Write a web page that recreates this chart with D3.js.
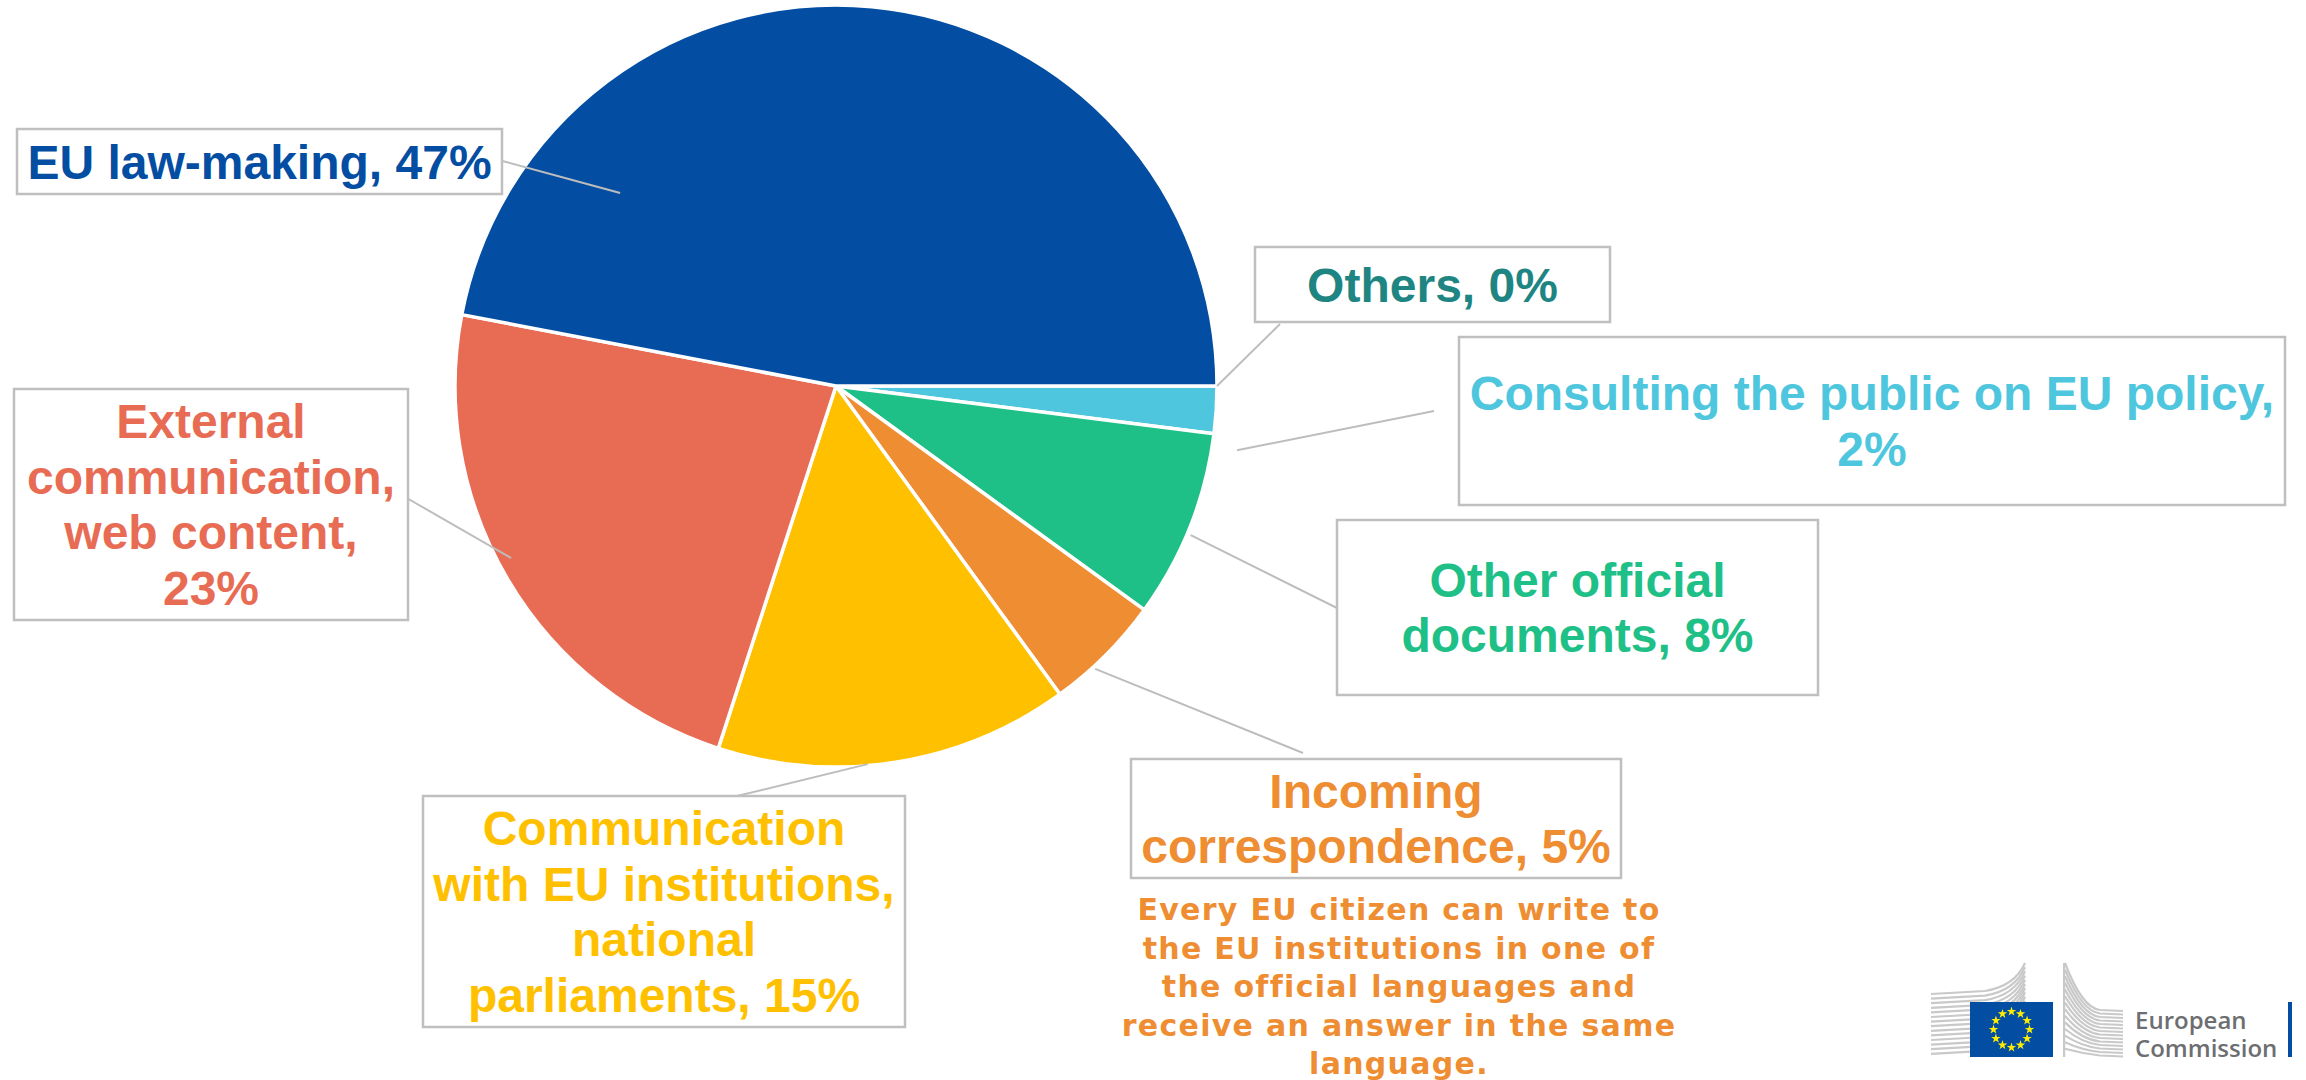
<!DOCTYPE html>
<html>
<head>
<meta charset="utf-8">
<title>Translation workload by document type</title>
<script src="https://cdn.jsdelivr.net/npm/d3@7"></script>
<style>
  html, body { margin: 0; padding: 0; background: #ffffff; }
  svg { display: block; }
</style>
</head>
<body>
<svg id="chart" width="2306" height="1080"></svg>
<script>
// ---- data (clockwise from 3 o'clock) ----
const categories = [
  "Others",
  "Consulting the public on EU policy",
  "Other official documents",
  "Incoming correspondence",
  "Communication with EU institutions, national parliaments",
  "External communication, web content",
  "EU law-making"
];
const shares = [0, 2, 8, 5, 15, 23, 47];
const sliceColors = ["#1E8583", "#4EC6DE", "#1FC087", "#EE8D31", "#FFC000", "#E86C54", "#034EA2"];

// label text split into lines; {v} is replaced by the share
const labelLines = [
  ["Others, {v}"],
  ["Consulting the public on EU policy,", "{v}"],
  ["Other official", "documents, {v}"],
  ["Incoming", "correspondence, {v}"],
  ["Communication", "with EU institutions,", "national", "parliaments, {v}"],
  ["External", "communication,", "web content,", "{v}"],
  ["EU law-making, {v}"]
];

const noteLines = [
  "Every EU citizen can write to",
  "the EU institutions in one of",
  "the official languages and",
  "receive an answer in the same",
  "language."
];

// ---- layout ----
const W = 2306, H = 1080;
const cx = 836, cy = 386, R = 381;

// callout boxes [x0, y0, x1, y1], leader end on the box, leader anchor on the pie (deg clockwise from 12, radius fraction)
const boxes = [
  [1255, 247, 1610, 322],
  [1459, 337, 2285, 505],
  [1337, 520, 1818, 695],
  [1131, 759, 1621, 878],
  [423, 796, 905, 1027],
  [14, 389, 408, 620],
  [17, 129, 502, 194]
];
const leaderBoxEnd = [
  [1280, 324], [1434, 411], [1341, 610], [1303, 753], [733, 797], [405, 497], [495, 159]
];
const leaderPieEnd = [
  [90, 1.0], [99.1, 1.066], [112.8, 1.01], [137.5, 1.007], [175.2, 0.996], [242.1, 0.965], [311.8, 0.76]
];

const svg = d3.select("#chart");
const labelFont = "'Liberation Sans', Arial, Helvetica, sans-serif";

// ---- pie ----
const pie = d3.pie()
  .sort(null)
  .value(d => d)
  .startAngle(Math.PI / 2)
  .endAngle(Math.PI / 2 + 2 * Math.PI);
const arc = d3.arc().innerRadius(0).outerRadius(R);

const pieG = svg.append("g").attr("transform", `translate(${cx},${cy})`);
pieG.selectAll("path.slice")
  .data(pie(shares))
  .join("path")
  .attr("class", "slice")
  .attr("d", arc)
  .attr("fill", (d, i) => sliceColors[i])
  .attr("stroke", "#ffffff")
  .attr("stroke-width", 3.5)
  .attr("stroke-linejoin", "round");

// ---- leader lines ----
svg.append("g").selectAll("line")
  .data(categories)
  .join("line")
  .attr("x1", (d, i) => leaderBoxEnd[i][0])
  .attr("y1", (d, i) => leaderBoxEnd[i][1])
  .attr("x2", (d, i) => cx + d3.pointRadial(leaderPieEnd[i][0] * Math.PI / 180, leaderPieEnd[i][1] * R)[0])
  .attr("y2", (d, i) => cy + d3.pointRadial(leaderPieEnd[i][0] * Math.PI / 180, leaderPieEnd[i][1] * R)[1])
  .attr("stroke", "#BDBDBD")
  .attr("stroke-width", 2);

// ---- callout boxes with labels ----
const lineStep = 55.5;
const callouts = svg.append("g").selectAll("g.callout")
  .data(categories)
  .join("g")
  .attr("class", "callout");

callouts.append("rect")
  .attr("x", (d, i) => boxes[i][0])
  .attr("y", (d, i) => boxes[i][1])
  .attr("width", (d, i) => boxes[i][2] - boxes[i][0])
  .attr("height", (d, i) => boxes[i][3] - boxes[i][1])
  .attr("fill", "#ffffff")
  .attr("stroke", "#BFBFBF")
  .attr("stroke-width", 2.5);

callouts.each(function(d, i) {
  const b = boxes[i];
  const mx = (b[0] + b[2]) / 2;
  const my = (b[1] + b[3]) / 2;
  const lines = labelLines[i].map(s => s.replace("{v}", shares[i] + "%"));
  const n = lines.length;
  d3.select(this).selectAll("text")
    .data(lines)
    .join("text")
    .attr("x", mx)
    .attr("y", (s, k) => my + 17 + (k - (n - 1) / 2) * lineStep)
    .attr("text-anchor", "middle")
    .attr("font-family", labelFont)
    .attr("font-weight", "bold")
    .attr("font-size", 48)
    .attr("fill", sliceColors[i])
    .text(s => s);
});

// ---- explanatory note ----
svg.append("g").selectAll("text")
  .data(noteLines)
  .join("text")
  .attr("x", 1399)
  .attr("y", (s, k) => 920 + k * 38.5)
  .attr("text-anchor", "middle")
  .attr("font-family", "'DejaVu Sans', Verdana, sans-serif")
  .attr("font-weight", "bold")
  .attr("font-size", 30)
  .attr("letter-spacing", 1.3)
  .attr("fill", "#EE8D31")
  .text(s => s);

// ---- European Commission logo ----
const logo = svg.append("g");
const stripeColor = "#C9C9C9";
logo.selectAll("path.lb")
  .data(d3.range(14))
  .join("path")
  .attr("class", "lb")
  .attr("d", i => {
    const yl = 994 + i * 4.6;
    const yr = 963 + i * 4.2;
    return `M1931,${yl} L1985,${yl - 3} Q2015,${yl - 8} 2025,${yr}`;
  })
  .attr("fill", "none")
  .attr("stroke", stripeColor)
  .attr("stroke-width", 2.2);

logo.selectAll("path.rb")
  .data(d3.range(14))
  .join("path")
  .attr("class", "rb")
  .attr("d", i => {
    const yt = 963 + i * 6.6;
    const yh = 1010 + i * 3.5;
    return `M2065,${yt} Q2082,${yh - 2} 2100,${yh} L2123,${yh + 1}`;
  })
  .attr("fill", "none")
  .attr("stroke", stripeColor)
  .attr("stroke-width", 2.2);

logo.append("rect")
  .attr("x", 2063).attr("y", 963).attr("width", 2.2).attr("height", 94)
  .attr("fill", stripeColor);

logo.append("rect")
  .attr("x", 1970).attr("y", 1002).attr("width", 83).attr("height", 55)
  .attr("fill", "#034EA2");

const star = d3.symbol().type(d3.symbolStar).size(28);
logo.selectAll("path.star")
  .data(d3.range(12))
  .join("path")
  .attr("class", "star")
  .attr("d", star)
  .attr("transform", k => {
    const p = d3.pointRadial(k * Math.PI / 6, 18);
    return `translate(${2011.5 + p[0]},${1029.5 + p[1]})`;
  })
  .attr("fill", "#FFED00");

logo.selectAll("text")
  .data(["European", "Commission"])
  .join("text")
  .attr("x", 2135)
  .attr("y", (s, k) => 1029 + k * 28)
  .attr("font-family", "'Open Sans', Arial, sans-serif")
  .attr("font-weight", 600)
  .attr("font-size", 24)
  .attr("fill", "#6D6E71")
  .text(s => s);

logo.append("rect")
  .attr("x", 2288).attr("y", 1002).attr("width", 4).attr("height", 55)
  .attr("fill", "#034EA2");
</script>
</body>
</html>
